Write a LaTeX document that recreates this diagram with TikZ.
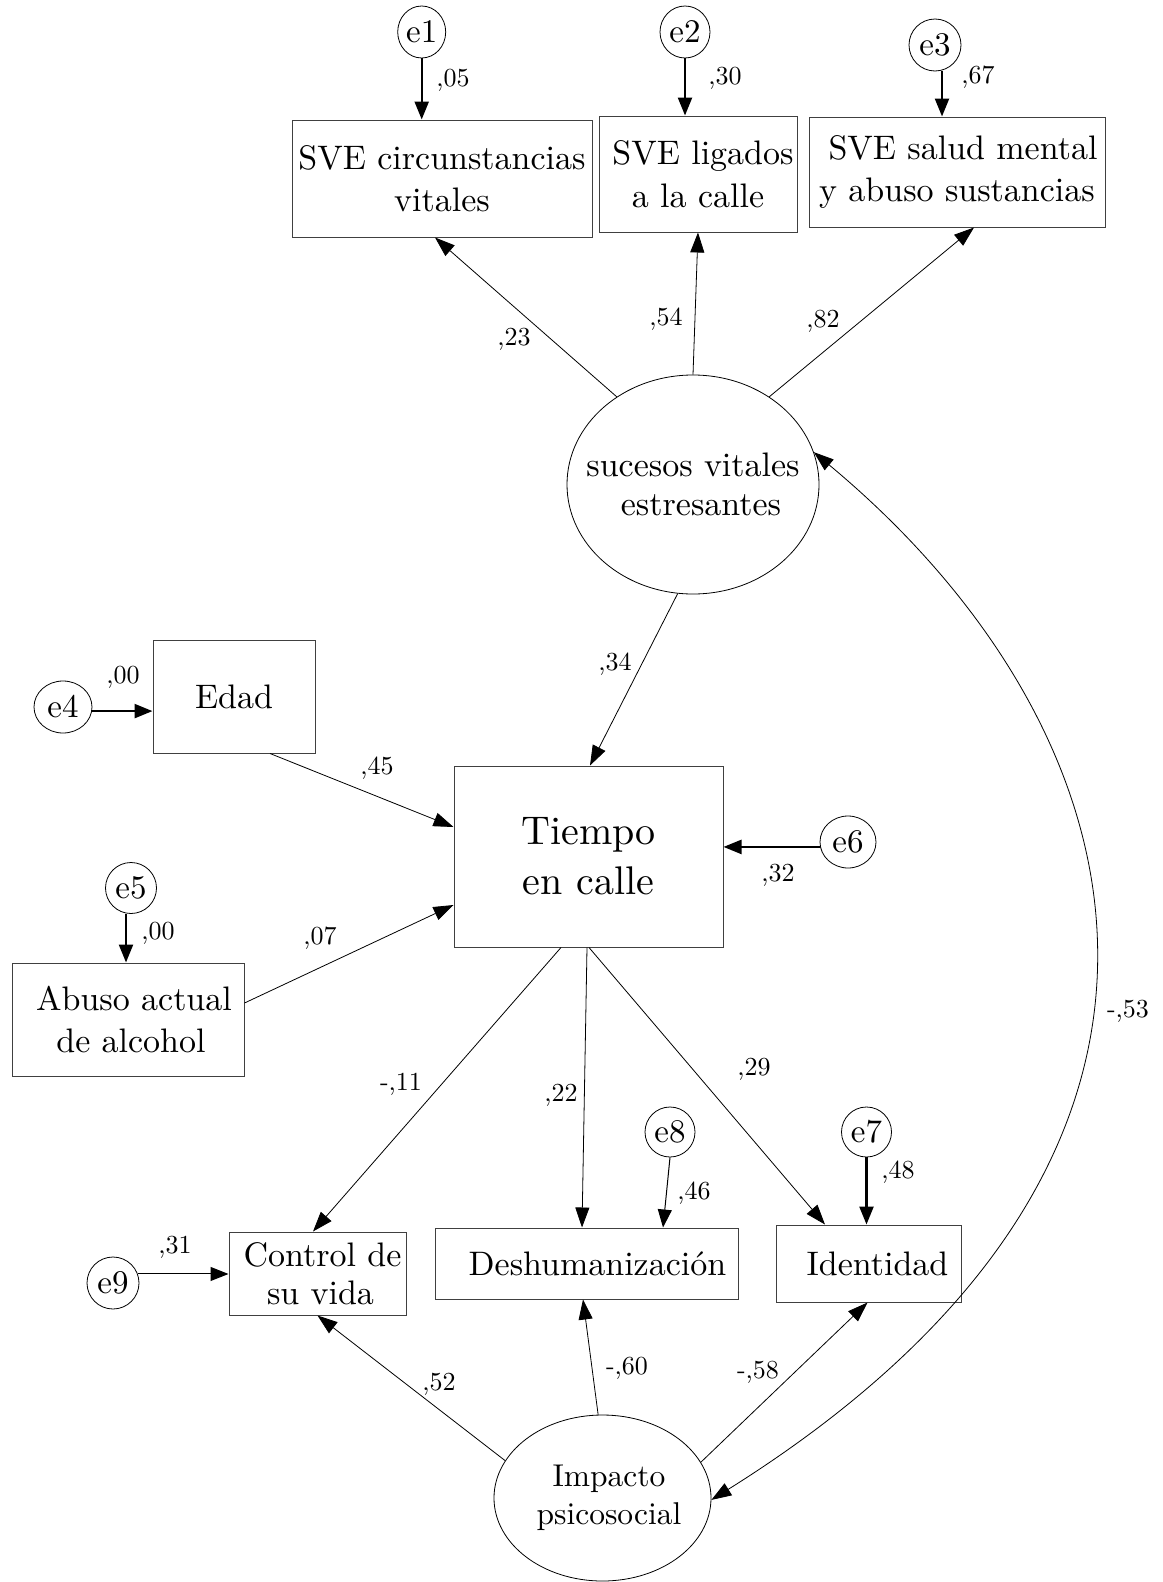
\documentclass[tikz,border=0pt]{standalone}
\usepackage{fontspec}
\setmainfont{lmroman10-regular}[Extension=.otf]
\usetikzlibrary{arrows.meta,shapes.geometric}
\begin{document}
\begin{tikzpicture}[x=1pt,y=-1pt,
  box/.style={draw=black!75, line width=1pt, rectangle, inner sep=0pt, align=center, font=\fontsize{34}{42.5}\selectfont},
  err/.style={draw, line width=0.8pt, ellipse, inner sep=0pt, font=\fontsize{33}{40}\selectfont},
  lat/.style={draw, line width=0.8pt, ellipse, inner sep=0pt, align=center},
  coef/.style={inner sep=0pt, font=\fontsize{26}{30}\selectfont},
  pth/.style={line width=0.8pt, -{Triangle[length=20pt,width=14pt]}},
  erra/.style={line width=2.4pt, -{Triangle[length=18pt,width=14pt]}},
  errthin/.style={line width=1pt, -{Triangle[length=18pt,width=14pt]}},
]
\useasboundingbox (0,0) rectangle (1162,1582);
\fill[white] (0,0) rectangle (1162,1582);

% observed boxes
\node[box, minimum width=300pt, minimum height=117pt] (b1) at (442,178.5) {SVE circunstancias\\vitales};
\node[box, minimum width=198pt, minimum height=116pt] (b2) at (698,174) {\hspace*{10pt}SVE ligados\\a la calle};
\node[box, minimum width=296pt, minimum height=110pt] (b3) at (957,172) {\hspace*{12pt}SVE salud mental\\y abuso sustancias};
\node[box, minimum width=162pt, minimum height=113pt] (edad) at (234,696.5) {Edad};
\node[box, minimum width=269pt, minimum height=181pt, font=\fontsize{40}{50}\selectfont] (tc) at (588.5,856.5) {Tiempo\\en calle};
\node[box, minimum width=232pt, minimum height=113pt] (abuso) at (128,1019.5) {\hspace*{12pt}Abuso actual\\\hspace*{6pt}de alcohol};
\node[box, minimum width=177pt, minimum height=83pt, font=\fontsize{34}{38}\selectfont] (ctl) at (317.5,1273.5) {\hspace*{10pt}Control de\\\hspace*{6pt}su vida};
\node[box, minimum width=303pt, minimum height=71pt] (desh) at (586.5,1263.5) {\hspace*{22pt}Deshumanización};
\node[box, minimum width=185pt, minimum height=77pt] (id) at (868.5,1263.5) {\hspace*{18pt}Identidad};

% latent variables
\node[lat, minimum width=252pt, minimum height=219pt, inner xsep=-30pt, font=\fontsize{34}{39}\selectfont] (sve) at (693,484.5) {sucesos vitales\\\hspace*{16pt}estresantes};
\node[lat, minimum width=217pt, minimum height=166pt, inner xsep=-12pt, font=\fontsize{31.5}{38}\selectfont] (imp) at (602.5,1498) {\hspace*{13pt}Impacto\\\hspace*{13pt}psicosocial};

% error terms
\node[err, minimum width=48pt, minimum height=52pt] (e1) at (421.7,32) {e1};
\node[err, minimum width=50pt, minimum height=52pt] (e2) at (685,32) {e2};
\node[err, minimum width=52pt, minimum height=52pt] (e3) at (935,45) {e3};
\node[err, minimum width=58pt, minimum height=52pt] (e4) at (63,707) {e4};
\node[err, minimum width=51pt, minimum height=51pt] (e5) at (131,888) {e5};
\node[err, minimum width=56pt, minimum height=52pt] (e6) at (848,842) {e6};
\node[err, minimum width=50pt, minimum height=50pt] (e7) at (866.5,1132) {e7};
\node[err, minimum width=50pt, minimum height=50pt] (e8) at (670,1132) {e8};
\node[err, minimum width=52pt, minimum height=52pt] (e9) at (113,1283) {e9};

% error arrows
\draw[erra] (e1.south) -- (e1.south |- b1.north);
\draw[erra] (e2.south) -- (e2.south |- b2.north);
\draw[erra] ([xshift=7pt]e3.south) -- ([xshift=7pt]e3.south |- b3.north);
\draw[erra] (e4.-8) -- (e4.-8 -| edad.west);
\draw[erra] ([xshift=-5pt]e5.south) -- ([xshift=-5pt]e5.south |- abuso.north);
\draw[erra] (e6.190) -- (e6.190 -| tc.east);
\draw[erra] (e7.south) -- (e7.south |- id.north);
\draw[errthin] (e8.south) -- ([xshift=76.5pt]desh.north);
\draw[errthin] (e9.20) -- (e9.20 -| ctl.west);

% structural paths
\draw[pth] (sve.131) -- ([xshift=-7pt]b1.south);
\draw[pth] (sve.north) -- (b2.south);
\draw[pth] (sve.49) -- ([xshift=17pt]b3.south);
\draw[pth] (sve.-98) -- ([xshift=1.5pt]tc.north);
\draw[pth] ([xshift=36pt]edad.south) -- ([yshift=29.5pt]tc.west);
\draw[pth] ([yshift=16.5pt]abuso.east) -- ([yshift=-48.5pt]tc.west);
\draw[pth] ([xshift=-27.5pt]tc.south) -- ([xshift=-4.5pt]ctl.north);
\draw[pth] ([xshift=-1.5pt]tc.south) -- ([xshift=-4.5pt]desh.north);
\draw[pth] ([xshift=0.5pt]tc.south) -- ([xshift=-43.5pt]id.north);
\draw[pth] (imp.159) -- (ctl.south);
\draw[pth] (imp.93) -- ([xshift=-3.5pt]desh.south);
\draw[pth] (imp.20) -- ([xshift=-1pt]id.south);
\draw[line width=0.8pt, {Triangle[length=20pt,width=14pt]}-{Triangle[length=20pt,width=14pt]}]
  (sve.15) .. controls (1143,726) and (1265,1153) .. (imp.-1);

% coefficients
\node[coef] (c05) at (453,80) {,05};
\node[coef] (c30) at (725,78) {,30};
\node[coef] (c67) at (978,77) {,67};
\node[coef] (c23) at (514,339) {,23};
\node[coef] (c54) at (666,319) {,54};
\node[coef] (c82) at (823,321) {,82};
\node[coef] (c34) at (615,664) {,34};
\node[coef] (c00a) at (123,677) {,00};
\node[coef] (c45) at (377,768) {,45};
\node[coef] (c00b) at (158,933) {,00};
\node[coef] (c07) at (320,938) {,07};
\node[coef] (c32) at (778,875) {,32};
\node[coef] (c11) at (401,1084) {-,11};
\node[coef] (c22) at (561,1095) {,22};
\node[coef] (c29) at (754,1069) {,29};
\node[coef] (c46) at (694,1193) {,46};
\node[coef] (c48) at (898,1172) {,48};
\node[coef] (c31) at (175,1247) {,31};
\node[coef] (c52) at (439,1384) {,52};
\node[coef] (c60) at (627,1368) {-,60};
\node[coef] (c58) at (758,1372) {-,58};
\node[coef] (c53) at (1128,1011) {-,53};
\end{tikzpicture}
\end{document}
